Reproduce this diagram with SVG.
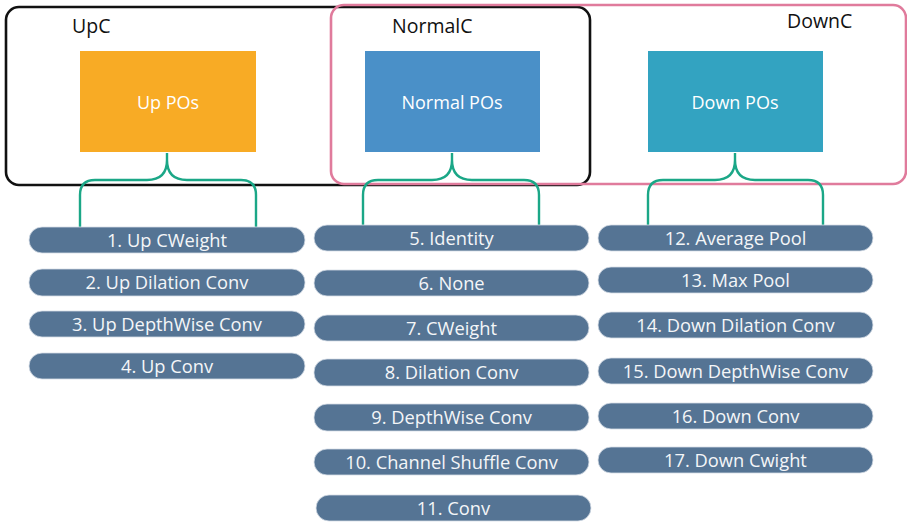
<svg xmlns="http://www.w3.org/2000/svg" width="907" height="522" viewBox="0 0 907 522">
  <style>
    .frame { fill: none; stroke-width: 2.6; }
    .title { font-family: "Open Sans", "Noto Sans", sans-serif; font-size: 19.5px; fill: #111; }
    .po text { font-family: "Open Sans", "Noto Sans", sans-serif; font-size: 18px; fill: #fff; text-anchor: middle; }
    .pill rect { fill: #557494; stroke: #d6dde6; stroke-width: 0.8; }
    .pill text { font-family: "Open Sans", "Noto Sans", sans-serif; font-size: 18.3px; fill: #f4f6f8; text-anchor: middle; }
    .brace { fill: none; stroke: #1ba787; stroke-width: 2.4; }
  </style>

  <!-- category frames -->
  <g id="UpC">
    <rect class="frame" x="6" y="7" width="584" height="178" rx="13" stroke="#111"/>
    <text class="title" x="72" y="33">UpC</text>
  </g>
  <g id="DownC">
    <rect class="frame" x="331" y="5" width="575" height="179" rx="13" stroke="#e07b9c"/>
    <text class="title" x="787" y="28">DownC</text>
  </g>
  <g id="NormalC-label">
    <text class="title" x="392" y="33">NormalC</text>
  </g>

  <!-- primitive operation groups -->
  <g id="up-pos" class="po">
    <rect x="80" y="51" width="176" height="101" fill="#f8ab25"/>
    <text x="168" y="109">Up POs</text>
  </g>
  <g id="normal-pos" class="po">
    <rect x="365" y="51" width="175" height="101" fill="#4a90c8"/>
    <text x="452" y="109">Normal POs</text>
  </g>
  <g id="down-pos" class="po">
    <rect x="648" y="51" width="175" height="101" fill="#33a3c1"/>
    <text x="735" y="109">Down POs</text>
  </g>

  <!-- connectors: braces from each group down to its list -->
  <g id="connectors">
    <path class="brace" d="M167,153 L167,160 Q167,180 147,180 L95,180 Q80,180 80,195 L80,228 M167,160 Q167,180 187,180 L241,180 Q256,180 256,195 L256,228"/>
    <path class="brace" d="M452,153 L452,160 Q452,180 432,180 L378,180 Q363,180 363,195 L363,226 M452,160 Q452,180 472,180 L524,180 Q539,180 539,195 L539,226"/>
    <path class="brace" d="M735,153 L735,160 Q735,180 715,180 L663,180 Q648,180 648,195 L648,226 M735,160 Q735,180 755,180 L808,180 Q823,180 823,195 L823,226"/>
  </g>

  <!-- Up operations -->
  <g id="op1" class="pill"><rect x="29" y="227" width="276" height="26" rx="13"/><text x="167" y="246.5">1. Up CWeight</text></g>
  <g id="op2" class="pill"><rect x="29" y="269" width="276" height="27" rx="13"/><text x="167" y="289">2. Up Dilation Conv</text></g>
  <g id="op3" class="pill"><rect x="29" y="311" width="276" height="26" rx="13"/><text x="167" y="330.5">3. Up DepthWise Conv</text></g>
  <g id="op4" class="pill"><rect x="29" y="353" width="276" height="26" rx="13"/><text x="167" y="372.5">4. Up Conv</text></g>

  <!-- Normal operations -->
  <g id="op5" class="pill"><rect x="314" y="225" width="275" height="26" rx="13"/><text x="451.5" y="244.5">5. Identity</text></g>
  <g id="op6" class="pill"><rect x="314" y="270" width="275" height="26" rx="13"/><text x="451.5" y="289.5">6. None</text></g>
  <g id="op7" class="pill"><rect x="314" y="315" width="275" height="26" rx="13"/><text x="451.5" y="334.5">7. CWeight</text></g>
  <g id="op8" class="pill"><rect x="314" y="359" width="275" height="27" rx="13"/><text x="451.5" y="379">8. Dilation Conv</text></g>
  <g id="op9" class="pill"><rect x="314" y="404" width="275" height="27" rx="13"/><text x="451.5" y="424">9. DepthWise Conv</text></g>
  <g id="op10" class="pill"><rect x="314" y="449" width="275" height="26" rx="13"/><text x="451.5" y="468.5">10. Channel Shuffle Conv</text></g>
  <g id="op11" class="pill"><rect x="316" y="495" width="275" height="26" rx="13"/><text x="453.5" y="514.5">11. Conv</text></g>

  <!-- Down operations -->
  <g id="op12" class="pill"><rect x="598" y="225" width="275" height="26" rx="13"/><text x="735.5" y="244.5">12. Average Pool</text></g>
  <g id="op13" class="pill"><rect x="598" y="267" width="275" height="26" rx="13"/><text x="735.5" y="286.5">13. Max Pool</text></g>
  <g id="op14" class="pill"><rect x="598" y="312" width="275" height="26" rx="13"/><text x="735.5" y="331.5">14. Down Dilation Conv</text></g>
  <g id="op15" class="pill"><rect x="598" y="358" width="275" height="26" rx="13"/><text x="735.5" y="377.5">15. Down DepthWise Conv</text></g>
  <g id="op16" class="pill"><rect x="598" y="403" width="275" height="26" rx="13"/><text x="735.5" y="422.5">16. Down Conv</text></g>
  <g id="op17" class="pill"><rect x="598" y="447" width="275" height="26" rx="13"/><text x="735.5" y="466.5">17. Down Cwight</text></g>
</svg>
